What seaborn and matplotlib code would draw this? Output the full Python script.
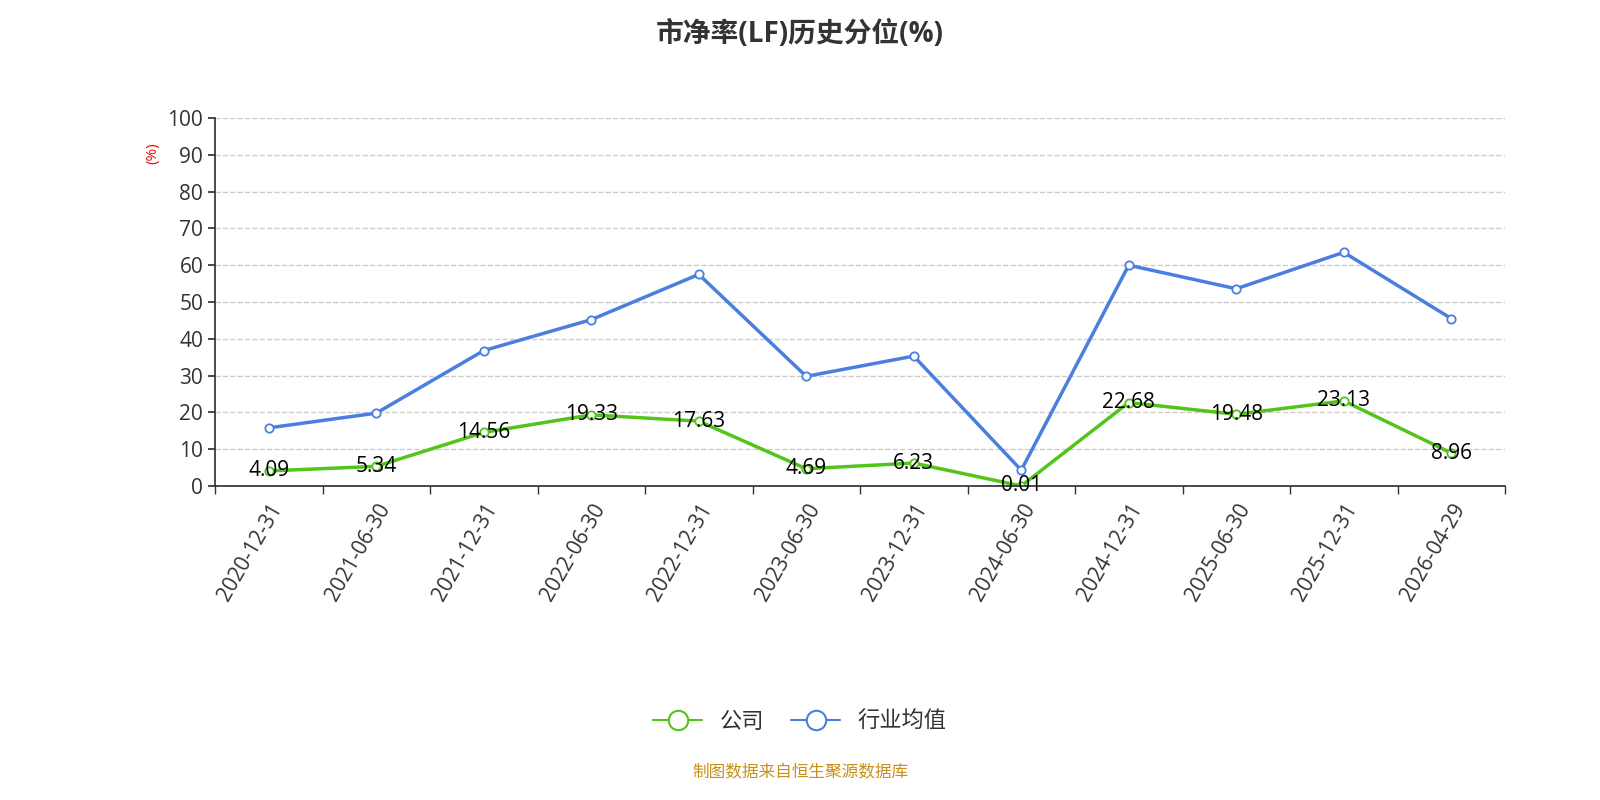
import numpy as np
import pandas as pd
import seaborn as sns
import matplotlib.pyplot as plt
from matplotlib.lines import Line2D

dates = ['2020-12-31', '2021-06-30', '2021-12-31', '2022-06-30', '2022-12-31', '2023-06-30',
         '2023-12-31', '2024-06-30', '2024-12-31', '2025-06-30', '2025-12-31', '2026-04-29']
company = [4.09, 5.34, 14.56, 19.33, 17.63, 4.69, 6.23, 0.01, 22.68, 19.48, 23.13, 8.96]
industry = [15.8, 19.8, 36.8, 45.2, 57.5, 29.8, 35.3, 4.3, 60.0, 53.6, 63.5, 45.5]

sns.set_theme(style='white')
plt.rcParams['font.family'] = ['Open Sans', 'Noto Sans CJK SC', 'DejaVu Sans']

df = pd.DataFrame({'x': np.arange(len(dates)), '公司': company, '行业均值': industry})
long = df.melt(id_vars='x', var_name='s', value_name='v')

fig = plt.figure(figsize=(16, 8), dpi=100)
ax = fig.add_axes([215/1600, 1-486/800, 1290/1600, 368/800])
sns.lineplot(data=long, x='x', y='v', hue='s', palette=['#52c41a', '#4a7fe0'], linewidth=2.5,
             marker='o', markersize=6, markerfacecolor='white', markeredgewidth=1.3, ax=ax, legend=False)
for line, c in zip(ax.get_lines(), ['#52c41a', '#4a7fe0']):
    line.set_markeredgecolor(c)

for i, v in enumerate(company):
    ax.text(i, v, f'{v:.2f}', ha='center', va='center', fontsize=15, color='black')

ax.set_xlim(-0.5, len(dates) - 0.5)
ax.set_ylim(0, 100)
ax.set_yticks(range(0, 101, 10))
ax.tick_params(axis='y', labelsize=15, colors='#333333', length=5, left=True)
ax.set_xticks(np.arange(len(dates)))
ax.set_xticklabels(dates, rotation=60, ha='right', rotation_mode='anchor', fontsize=15, color='#333333')
ax.set_xticks(np.arange(len(dates) + 1) - 0.5, minor=True)
ax.tick_params(axis='x', which='major', length=0, pad=10)
ax.tick_params(axis='x', which='minor', length=6, bottom=True, color='#333333')
ax.grid(axis='y', linestyle='--', color='#cccccc', linewidth=1)
for s in ['top', 'right']:
    ax.spines[s].set_visible(False)
ax.spines['left'].set_color('#333333')
ax.spines['bottom'].set_color('#333333')
ax.set_xlabel('')
ax.set_ylabel('')
fig.text(153/1600, 1-153/800, '(%)', color='red', fontsize=11, rotation=90, ha='center', va='center')

fig.suptitle('市净率(LF)历史分位(%)', fontsize=20, fontweight='bold', color='#333333', y=0.975)

handles = [Line2D([], [], color=c, marker='o', markersize=14, markerfacecolor='white', markeredgewidth=1.5, linewidth=1.5)
           for c in ['#52c41a', '#4a7fe0']]
fig.legend(handles, ['公司', '行业均值'], loc='center', bbox_to_anchor=(0.5, 1-722/800), ncol=2, frameon=False,
           fontsize=16, handlelength=2.2, columnspacing=1.2, labelcolor='#333333')
fig.text(0.5, 1-773/800, '制图数据来自恒生聚源数据库', color='#c8901a', fontsize=12, ha='center', va='center')

fig.savefig('out.png')
